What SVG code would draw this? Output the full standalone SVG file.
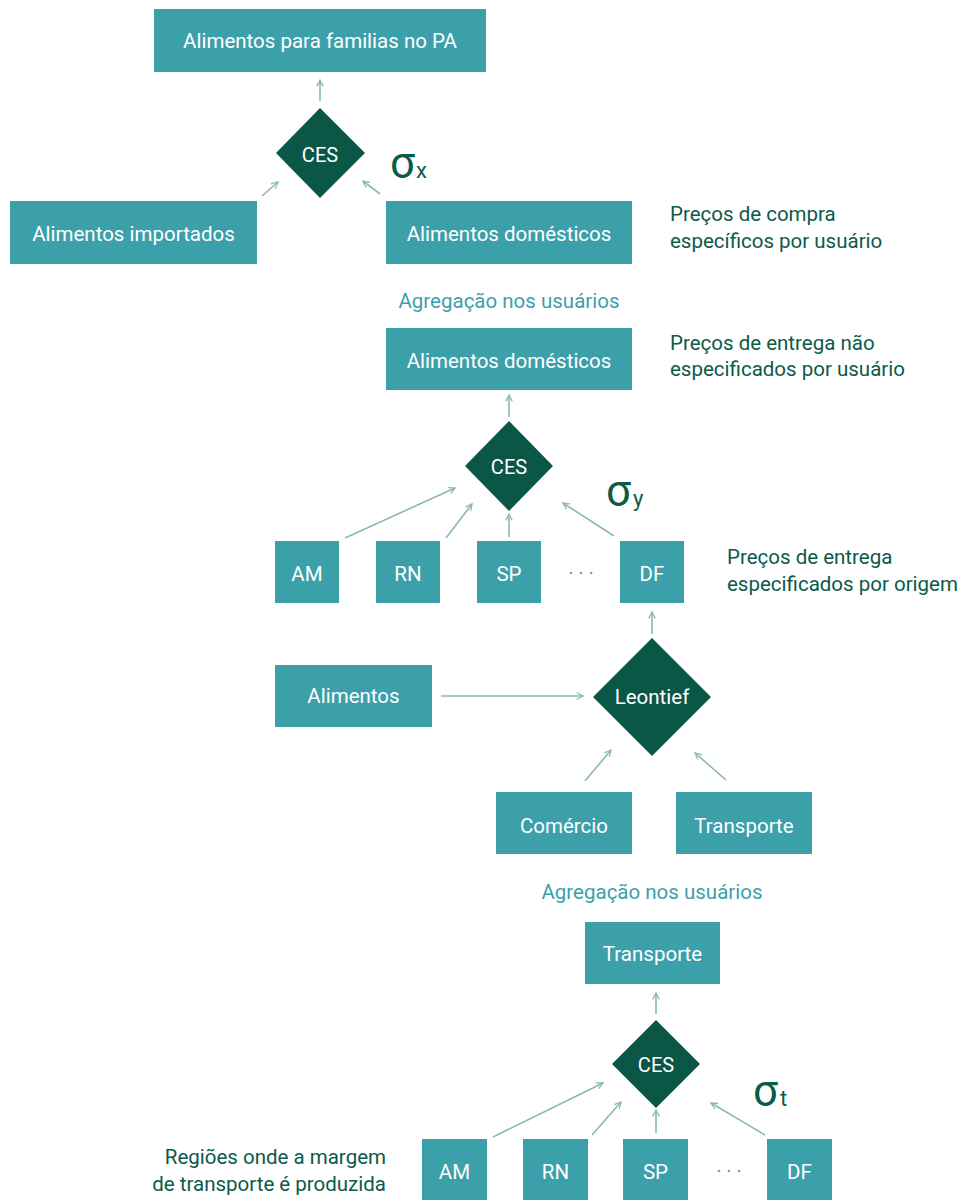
<svg xmlns="http://www.w3.org/2000/svg" width="963" height="1200" viewBox="0 0 963 1200">
<style>
.box{fill:#3ca0ab}
.dia{fill:#0a5647}
.bt{font-family:Roboto,"Liberation Sans",sans-serif;font-size:20.5px;fill:#ffffff;text-anchor:middle;dominant-baseline:central}
.dt{font-family:Roboto,"Liberation Sans",sans-serif;font-size:20px;fill:#ffffff;text-anchor:middle;dominant-baseline:central}
.note{font-family:Roboto,"Liberation Sans",sans-serif;font-size:20.5px;fill:#0b5a4a}
.agg{font-family:Roboto,"Liberation Sans",sans-serif;font-size:20.5px;fill:#3ca0ab;text-anchor:middle}
.sig{font-family:Roboto,"Liberation Sans",sans-serif;font-size:44px;fill:#0b5a4a}
.sub{font-family:Roboto,"Liberation Sans",sans-serif;font-size:22px;fill:#0b5a4a}
.dots{font-family:Roboto,"Liberation Sans",sans-serif;font-size:20px;fill:#3ca0ab;text-anchor:middle}
.c{stroke:#8cb9ab;stroke-width:1.6;fill:none;marker-end:url(#ah)}
</style>
<defs>
<marker id="ah" viewBox="0 0 10 10" refX="9" refY="5" markerWidth="8" markerHeight="8" markerUnits="userSpaceOnUse" orient="auto">
<path d="M1,1 L9,5 L1,9" fill="none" stroke="#8cb9ab" stroke-width="1.6"/>
</marker>
</defs>

<g id="connectors">
<line class="c" x1="320" y1="101" x2="320" y2="80"/>
<line class="c" x1="262" y1="196" x2="278" y2="182"/>
<line class="c" x1="380" y1="194" x2="363" y2="181"/>
<line class="c" x1="509" y1="417" x2="509" y2="395"/>
<line class="c" x1="345" y1="538" x2="455" y2="488"/>
<line class="c" x1="446" y1="538" x2="472" y2="504"/>
<line class="c" x1="509" y1="537" x2="509" y2="514"/>
<line class="c" x1="614" y1="536" x2="563" y2="503"/>
<line class="c" x1="652" y1="634" x2="652" y2="612"/>
<line class="c" x1="441" y1="696" x2="583" y2="696"/>
<line class="c" x1="585" y1="781" x2="611" y2="750"/>
<line class="c" x1="726" y1="780" x2="695" y2="753"/>
<line class="c" x1="656" y1="1014" x2="656" y2="993"/>
<line class="c" x1="493" y1="1137" x2="603" y2="1083"/>
<line class="c" x1="592" y1="1135" x2="621" y2="1102"/>
<line class="c" x1="656" y1="1133" x2="656" y2="1110"/>
<line class="c" x1="765" y1="1135" x2="711" y2="1103"/>
</g>

<g id="n_top"><rect class="box" x="154" y="9" width="332" height="63"/><text class="bt" x="320" y="41">Alimentos para familias no PA</text></g>
<g id="n_ces1"><polygon class="dia" points="320,108 365,153 320,198 276,153"/><text class="dt" x="320" y="155">CES</text></g>
<g id="n_sigx"><text class="sig" x="390" y="178">σ</text><text class="sub" x="416" y="178">x</text></g>
<g id="n_imp"><rect class="box" x="10" y="201" width="247" height="63"/><text class="bt" x="133.5" y="234">Alimentos importados</text></g>
<g id="n_dom1"><rect class="box" x="386" y="201" width="246" height="63"/><text class="bt" x="509" y="234">Alimentos domésticos</text></g>
<g id="n_note1"><text class="note" x="670" y="221">Preços de compra</text><text class="note" x="670" y="248">específicos por usuário</text></g>

<g id="n_agg1"><text class="agg" x="509" y="308">Agregação nos usuários</text></g>
<g id="n_dom2"><rect class="box" x="386" y="328" width="246" height="62"/><text class="bt" x="509" y="361">Alimentos domésticos</text></g>
<g id="n_note2"><text class="note" x="670" y="350">Preços de entrega não</text><text class="note" x="670" y="376">especificados por usuário</text></g>
<g id="n_ces2"><polygon class="dia" points="509,421 553,466 509,511 465,466"/><text class="dt" x="509" y="467">CES</text></g>
<g id="n_sigy"><text class="sig" x="606" y="506">σ</text><text class="sub" x="633" y="506">y</text></g>
<g id="n_am1"><rect class="box" x="275" y="541" width="64" height="62"/><text class="bt" x="307" y="574">AM</text></g>
<g id="n_rn1"><rect class="box" x="376" y="541" width="64" height="62"/><text class="bt" x="408" y="574">RN</text></g>
<g id="n_sp1"><rect class="box" x="477" y="541" width="64" height="62"/><text class="bt" x="509" y="574">SP</text></g>
<g id="n_dots1"><text class="dots" x="581" y="580">· · ·</text></g>
<g id="n_df1"><rect class="box" x="620" y="541" width="64" height="62"/><text class="bt" x="652" y="574">DF</text></g>
<g id="n_note3"><text class="note" x="727" y="564">Preços de entrega</text><text class="note" x="727" y="591">especificados por origem</text></g>

<g id="n_leon"><polygon class="dia" points="652,638 711,697 652,756 593,697"/><text class="bt" x="652" y="697">Leontief</text></g>
<g id="n_alim"><rect class="box" x="275" y="665" width="157" height="62"/><text class="bt" x="353.5" y="696">Alimentos</text></g>
<g id="n_com"><rect class="box" x="496" y="792" width="136" height="62"/><text class="bt" x="564" y="826">Comércio</text></g>
<g id="n_tra1"><rect class="box" x="676" y="792" width="136" height="62"/><text class="bt" x="744" y="826">Transporte</text></g>

<g id="n_agg2"><text class="agg" x="652" y="899">Agregação nos usuários</text></g>
<g id="n_tra2"><rect class="box" x="585" y="922" width="135" height="62"/><text class="bt" x="652.5" y="954">Transporte</text></g>
<g id="n_ces3"><polygon class="dia" points="656,1020 700,1064 656,1108 612,1064"/><text class="dt" x="656" y="1065">CES</text></g>
<g id="n_sigt"><text class="sig" x="753" y="1106">σ</text><text class="sub" x="780" y="1106">t</text></g>
<g id="n_am2"><rect class="box" x="422" y="1139" width="65" height="62"/><text class="bt" x="454.5" y="1172">AM</text></g>
<g id="n_rn2"><rect class="box" x="523" y="1139" width="65" height="62"/><text class="bt" x="555.5" y="1172">RN</text></g>
<g id="n_sp2"><rect class="box" x="623" y="1139" width="65" height="62"/><text class="bt" x="655.5" y="1172">SP</text></g>
<g id="n_dots2"><text class="dots" x="729" y="1178">· · ·</text></g>
<g id="n_df2"><rect class="box" x="767" y="1139" width="65" height="62"/><text class="bt" x="799.5" y="1172">DF</text></g>
<g id="n_note4"><text class="note" x="386" y="1164" text-anchor="end">Regiões onde a margem</text><text class="note" x="386" y="1191" text-anchor="end">de transporte é produzida</text></g>
</svg>
